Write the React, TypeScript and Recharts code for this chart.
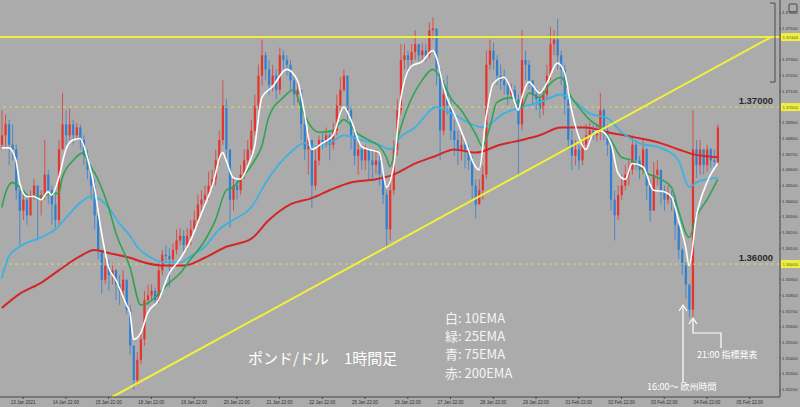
import React from 'react';
import { ComposedChart, Bar, Line, XAxis, YAxis, ReferenceLine } from 'recharts';

const firstOpen = 1.3676;

const closes = [
  1.3682, 1.3689, 1.3676, 1.3673, 1.3647, 1.3634, 1.3641, 1.3631, 1.3644, 1.3650,
  1.3641, 1.3644, 1.3657, 1.3647, 1.3638, 1.3628, 1.3673, 1.3689, 1.3682, 1.3689,
  1.3682, 1.3687, 1.3679, 1.3669, 1.3660, 1.3650, 1.3631, 1.3609, 1.3590, 1.3599,
  1.3593, 1.3596, 1.3587, 1.3583, 1.3590, 1.3571, 1.3548, 1.3526, 1.3539, 1.3552,
  1.3577, 1.3580, 1.3583, 1.3577, 1.3596, 1.3606, 1.3605, 1.3603, 1.3609, 1.3615,
  1.3618, 1.3612, 1.3618, 1.3622, 1.3628, 1.3638, 1.3641, 1.3644, 1.3650, 1.3654,
  1.3666, 1.3679, 1.3701, 1.3673, 1.3641, 1.3650, 1.3647, 1.3657, 1.3666, 1.3673,
  1.3685, 1.3701, 1.3720, 1.3733, 1.3724, 1.3714, 1.3720, 1.3711, 1.3733, 1.3730,
  1.3727, 1.3717, 1.3708, 1.3711, 1.3689, 1.3673, 1.3679, 1.3650, 1.3666, 1.3679,
  1.3676, 1.3682, 1.3676, 1.3685, 1.3701, 1.3711, 1.3720, 1.3698, 1.3682, 1.3669,
  1.3673, 1.3666, 1.3673, 1.3666, 1.3663, 1.3666, 1.3657, 1.3644, 1.3622, 1.3647,
  1.3673, 1.3698, 1.3730, 1.3733, 1.3730, 1.3735, 1.3740, 1.3733, 1.3736, 1.3733,
  1.3749, 1.3750, 1.3724, 1.3685, 1.3708, 1.3701, 1.3685, 1.3679, 1.3673, 1.3676,
  1.3673, 1.3666, 1.3650, 1.3638, 1.3647, 1.3657, 1.3727, 1.3736, 1.3730, 1.3720,
  1.3717, 1.3714, 1.3708, 1.3711, 1.3705, 1.3689, 1.3730, 1.3727, 1.3717, 1.3708,
  1.3705, 1.3699, 1.3708, 1.3720, 1.3740, 1.3743, 1.3733, 1.3724, 1.3705, 1.3679,
  1.3669, 1.3673, 1.3666, 1.3676, 1.3682, 1.3685, 1.3682, 1.3685, 1.3698, 1.3685,
  1.3676, 1.3641, 1.3631, 1.3644, 1.3650, 1.3657, 1.3660, 1.3676, 1.3666, 1.3660,
  1.3673, 1.3650, 1.3634, 1.3657, 1.3660, 1.3647, 1.3641, 1.3644, 1.3641, 1.3625,
  1.3609, 1.3599, 1.3587, 1.3571, 1.3673, 1.3663, 1.3673, 1.3663, 1.3673, 1.3666,
  1.3665, 1.3687,
];

const highs = [
  1.3698, 1.3695, 1.3692, 1.3689, 1.3676, 1.3650, 1.3647, 1.3644, 1.3647, 1.3654,
  1.3650, 1.3647, 1.3679, 1.3660, 1.3650, 1.3644, 1.3679, 1.3709, 1.3698, 1.3699,
  1.3692, 1.3690, 1.3689, 1.3682, 1.3673, 1.3663, 1.3654, 1.3634, 1.3609, 1.3604,
  1.3603, 1.3601, 1.3597, 1.3593, 1.3596, 1.3587, 1.3574, 1.3548, 1.3544, 1.3556,
  1.3583, 1.3587, 1.3587, 1.3585, 1.3601, 1.3609, 1.3612, 1.3610, 1.3613, 1.3622,
  1.3623, 1.3622, 1.3623, 1.3628, 1.3634, 1.3644, 1.3647, 1.3650, 1.3659, 1.3660,
  1.3673, 1.3685, 1.3717, 1.3705, 1.3673, 1.3655, 1.3654, 1.3663, 1.3673, 1.3679,
  1.3692, 1.3708, 1.3727, 1.3743, 1.3735, 1.3730, 1.3727, 1.3724, 1.3738, 1.3736,
  1.3733, 1.3730, 1.3720, 1.3717, 1.3711, 1.3695, 1.3685, 1.3679, 1.3673, 1.3682,
  1.3684, 1.3687, 1.3685, 1.3690, 1.3708, 1.3719, 1.3724, 1.3720, 1.3701, 1.3685,
  1.3679, 1.3676, 1.3676, 1.3674, 1.3673, 1.3673, 1.3669, 1.3660, 1.3647, 1.3654,
  1.3679, 1.3705, 1.3740, 1.3740, 1.3736, 1.3740, 1.3749, 1.3740, 1.3741, 1.3740,
  1.3754, 1.3757, 1.3749, 1.3724, 1.3717, 1.3720, 1.3705, 1.3692, 1.3685, 1.3682,
  1.3679, 1.3676, 1.3669, 1.3654, 1.3654, 1.3663, 1.3736, 1.3743, 1.3741, 1.3733,
  1.3727, 1.3724, 1.3717, 1.3715, 1.3714, 1.3708, 1.3749, 1.3736, 1.3730, 1.3717,
  1.3712, 1.3708, 1.3711, 1.3727, 1.3751, 1.3749, 1.3756, 1.3736, 1.3727, 1.3705,
  1.3685, 1.3679, 1.3676, 1.3680, 1.3689, 1.3690, 1.3689, 1.3689, 1.3709, 1.3701,
  1.3689, 1.3679, 1.3647, 1.3650, 1.3657, 1.3663, 1.3666, 1.3682, 1.3679, 1.3669,
  1.3679, 1.3674, 1.3654, 1.3665, 1.3666, 1.3660, 1.3650, 1.3650, 1.3647, 1.3644,
  1.3625, 1.3610, 1.3601, 1.3587, 1.3698, 1.3679, 1.3679, 1.3673, 1.3676, 1.3674,
  1.3673, 1.3689,
];

const lows = [
  1.3673, 1.3673, 1.3663, 1.3666, 1.3641, 1.3612, 1.3628, 1.3625, 1.3631, 1.3641,
  1.3615, 1.3631, 1.3641, 1.3638, 1.3625, 1.3623, 1.3625, 1.3673, 1.3676, 1.3679,
  1.3676, 1.3679, 1.3673, 1.3663, 1.3654, 1.3641, 1.3622, 1.3603, 1.3581, 1.3587,
  1.3583, 1.3587, 1.3577, 1.3574, 1.3577, 1.3568, 1.3542, 1.3520, 1.3523, 1.3536,
  1.3548, 1.3574, 1.3577, 1.3574, 1.3575, 1.3593, 1.3601, 1.3585, 1.3599, 1.3606,
  1.3612, 1.3608, 1.3609, 1.3612, 1.3620, 1.3625, 1.3634, 1.3638, 1.3641, 1.3647,
  1.3650, 1.3663, 1.3676, 1.3666, 1.3623, 1.3634, 1.3641, 1.3644, 1.3654, 1.3663,
  1.3669, 1.3682, 1.3698, 1.3714, 1.3717, 1.3708, 1.3710, 1.3705, 1.3708, 1.3724,
  1.3720, 1.3711, 1.3701, 1.3703, 1.3679, 1.3666, 1.3657, 1.3636, 1.3647, 1.3663,
  1.3673, 1.3674, 1.3666, 1.3673, 1.3682, 1.3698, 1.3710, 1.3692, 1.3673, 1.3663,
  1.3657, 1.3660, 1.3660, 1.3654, 1.3654, 1.3657, 1.3650, 1.3638, 1.3611, 1.3615,
  1.3644, 1.3669, 1.3695, 1.3724, 1.3724, 1.3727, 1.3730, 1.3729, 1.3730, 1.3729,
  1.3731, 1.3743, 1.3714, 1.3666, 1.3682, 1.3695, 1.3679, 1.3669, 1.3663, 1.3666,
  1.3661, 1.3660, 1.3641, 1.3629, 1.3638, 1.3641, 1.3654, 1.3724, 1.3724, 1.3714,
  1.3711, 1.3708, 1.3701, 1.3705, 1.3698, 1.3657, 1.3685, 1.3717, 1.3711, 1.3701,
  1.3698, 1.3693, 1.3695, 1.3705, 1.3717, 1.3733, 1.3724, 1.3714, 1.3695, 1.3673,
  1.3660, 1.3663, 1.3660, 1.3663, 1.3673, 1.3676, 1.3679, 1.3678, 1.3679, 1.3679,
  1.3669, 1.3634, 1.3615, 1.3628, 1.3641, 1.3647, 1.3650, 1.3657, 1.3660, 1.3654,
  1.3657, 1.3641, 1.3627, 1.3634, 1.3650, 1.3638, 1.3634, 1.3638, 1.3634, 1.3615,
  1.3603, 1.3593, 1.3578, 1.3566, 1.3566, 1.3655, 1.3657, 1.3657, 1.3659, 1.3661,
  1.3661, 1.3663,
];

// EMA lines: [candle index, price]
const ema10Pts: [number, number][] = [
  [0, 1.3674], [2, 1.3674], [4, 1.3666], [5, 1.3652], [7, 1.3643], [9, 1.3643], [11, 1.3641],
  [13, 1.3646], [14, 1.3644], [16, 1.3655], [18, 1.3673], [20, 1.3679], [22, 1.3680], [24, 1.3668],
  [26, 1.3649], [28, 1.3620], [30, 1.3598], [32, 1.3590], [35, 1.3574], [36, 1.3569], [37, 1.3552],
  [39, 1.3556], [41, 1.3569], [44, 1.3577], [47, 1.3594], [50, 1.3603], [53, 1.3615], [56, 1.3632],
  [59, 1.3649], [62, 1.3671], [63, 1.3666], [65, 1.3655], [67, 1.3654], [69, 1.3662], [71, 1.3675],
  [73, 1.3706], [76, 1.3713], [80, 1.3724], [83, 1.3717], [85, 1.3696], [87, 1.3673], [90, 1.3677],
  [93, 1.3682], [96, 1.3700], [98, 1.3692], [101, 1.3675], [103, 1.3673], [106, 1.3671], [108, 1.3649],
  [110, 1.3662], [112, 1.3705], [115, 1.3726], [118, 1.3729], [121, 1.3736], [122, 1.3732], [124, 1.3713],
  [125, 1.3706], [127, 1.3696], [130, 1.3679], [133, 1.3662], [134, 1.3660], [136, 1.3694], [138, 1.3715],
  [141, 1.3719], [143, 1.3711], [145, 1.3698], [146, 1.3706], [148, 1.3716], [151, 1.3709], [153, 1.3715],
  [156, 1.3728], [158, 1.3722], [160, 1.3698], [162, 1.3681], [164, 1.3673], [166, 1.3683], [168, 1.3685],
  [171, 1.3677], [173, 1.3658], [175, 1.3654], [177, 1.3664], [180, 1.3662], [183, 1.3647], [186, 1.3646],
  [188, 1.3643], [190, 1.3628], [192, 1.3611], [193, 1.3599], [195, 1.3630], [198, 1.3652], [201, 1.3664],
];

const ema25Pts: [number, number][] = [
  [0, 1.3636], [1, 1.3645], [3, 1.3652], [5, 1.3649], [8, 1.3643], [11, 1.3643], [14, 1.3645],
  [16, 1.3645], [17, 1.3655], [20, 1.3666], [23, 1.3671], [24, 1.3666], [27, 1.3654], [30, 1.3636],
  [32, 1.3620], [36, 1.3598], [39, 1.3574], [41, 1.3575], [44, 1.3581], [47, 1.3588], [50, 1.3594],
  [53, 1.3603], [57, 1.3615], [60, 1.3628], [63, 1.3647], [65, 1.3649], [67, 1.3654], [71, 1.3666],
  [73, 1.3675], [75, 1.3694], [79, 1.3706], [82, 1.3711], [84, 1.3700], [87, 1.3687], [89, 1.3684],
  [93, 1.3685], [96, 1.3692], [100, 1.3683], [103, 1.3679], [106, 1.3675], [108, 1.3668], [109, 1.3662],
  [111, 1.3679], [114, 1.3700], [118, 1.3717], [121, 1.3724], [124, 1.3715], [126, 1.3706], [129, 1.3698],
  [133, 1.3683], [135, 1.3675], [137, 1.3687], [139, 1.3703], [143, 1.3706], [146, 1.3700], [148, 1.3709],
  [151, 1.3706], [154, 1.3715], [157, 1.3719], [160, 1.3706], [162, 1.3700], [165, 1.3692], [168, 1.3687],
  [171, 1.3679], [174, 1.3668], [177, 1.3666], [181, 1.3658], [185, 1.3654], [188, 1.3649], [190, 1.3634],
  [193, 1.3617], [195, 1.3630], [198, 1.3641], [201, 1.3654],
];

const ema75Pts: [number, number][] = [
  [0, 1.3591], [2, 1.3605], [5, 1.3611], [11, 1.3617], [15, 1.3622], [19, 1.3632], [22, 1.3639],
  [25, 1.3643], [27, 1.3642], [30, 1.3636], [33, 1.3626], [36, 1.3618], [38, 1.3611], [42, 1.3604],
  [46, 1.3601], [50, 1.3601], [53, 1.3605], [57, 1.3611], [61, 1.3622], [65, 1.3628], [70, 1.3636],
  [75, 1.3655], [81, 1.3671], [85, 1.3677], [87, 1.3675], [92, 1.3677], [96, 1.3682], [101, 1.3679],
  [106, 1.3676], [109, 1.3673], [112, 1.3681], [116, 1.3687], [122, 1.3700], [127, 1.3695], [135, 1.3687],
  [141, 1.3696], [146, 1.3700], [151, 1.3703], [157, 1.3708], [160, 1.3705], [165, 1.3696], [170, 1.3693],
  [174, 1.3684], [179, 1.3677], [185, 1.3674], [190, 1.3666], [193, 1.3649], [195, 1.3652], [198, 1.3654],
  [201, 1.3655],
];

const ema200Pts: [number, number][] = [
  [0, 1.3572], [5, 1.3581], [11, 1.3588], [16, 1.3596], [22, 1.3605], [26, 1.3609], [30, 1.3607],
  [36, 1.3604], [40, 1.3601], [46, 1.3599], [51, 1.3599], [57, 1.3604], [63, 1.3611], [70, 1.3616],
  [75, 1.3628], [81, 1.3638], [87, 1.3642], [92, 1.3647], [98, 1.3652], [105, 1.3654], [110, 1.3657],
  [116, 1.3664], [122, 1.3669], [127, 1.3673], [133, 1.3671], [140, 1.3676], [146, 1.3679], [151, 1.3682],
  [157, 1.3687], [164, 1.3687], [170, 1.3684], [177, 1.3681], [185, 1.3677], [190, 1.3673], [194, 1.3670],
  [201, 1.3668],
];

const dayLabels = [
  '13 Jan 2021', '14 Jan 22:00', '15 Jan 22:00', '18 Jan 22:00', '19 Jan 22:00', '20 Jan 22:00',
  '21 Jan 22:00', '22 Jan 22:00', '25 Jan 22:00', '26 Jan 22:00', '27 Jan 22:00', '28 Jan 22:00',
  '29 Jan 22:00', '01 Feb 22:00', '02 Feb 22:00', '03 Feb 22:00', '04 Feb 22:00', '05 Feb 22:00',
];

// right-axis ticks (1.36000 and 1.37000 are shown by the yellow price boxes)
const yTicks = [
  1.352, 1.353, 1.354, 1.355, 1.356, 1.357, 1.358, 1.359, 1.361, 1.362, 1.363, 1.364,
  1.365, 1.366, 1.367, 1.368, 1.369, 1.371, 1.372, 1.373, 1.375, 1.376,
];

const resistanceLevel = 1.37446;
const roundLevels = [1.37, 1.36];
const trendStart = { i: 31, p: 1.35153 };
const trendEnd = { i: 216, p: 1.37446 };

// ---------- layout ----------
const W = 800;
const H = 407;
const AXIS_W = 20;
const XAXIS_H = 10;
const SLOTS = 219;
const CANDLES_PER_DAY = 12;
const FIRST_TICK = 6;
const P_TOP = 1.37682;
const P_BOT = 1.35153;
const BG = '#ababab';
const UP = '#e8322c';
const DOWN = '#2f7fd2';
const YELLOW = '#f0f03c';

const toMap = (pts: [number, number][]) => new Map(pts.map(([i, v]) => [i, v]));
const m10 = toMap(ema10Pts);
const m25 = toMap(ema25Pts);
const m75 = toMap(ema75Pts);
const m200 = toMap(ema200Pts);

const tickIdx = dayLabels.map((_, k) => FIRST_TICK + k * CANDLES_PER_DAY);
const tickLabel: Record<number, string> = {};
tickIdx.forEach((t, k) => (tickLabel[t] = dayLabels[k]));

const data = Array.from({ length: SLOTS }, (_, i) => {
  const has = i < closes.length;
  const o = has ? (i === 0 ? firstOpen : closes[i - 1]) : null;
  const c = has ? closes[i] : null;
  const h = has ? Math.max(highs[i], o as number, c as number) : null;
  const l = has ? Math.min(lows[i], o as number, c as number) : null;
  return {
    i,
    o,
    c,
    h,
    l,
    e10: m10.has(i) ? m10.get(i) : null,
    e25: m25.has(i) ? m25.get(i) : null,
    e75: m75.has(i) ? m75.get(i) : null,
    e200: m200.has(i) ? m200.get(i) : null,
  };
});

const Candle = (props: any) => {
  const { x, y, width, height, payload } = props;
  if (!payload || payload.c == null) return null;
  const { o, c, h, l } = payload;
  const top = Math.min(y, y + height);
  const hgt = Math.abs(height);
  const span = h - l || 1e-6;
  const yOf = (p: number) => top + ((h - p) / span) * hgt;
  const cx = x + width / 2;
  const color = c >= o ? UP : DOWN;
  const yo = yOf(o);
  const yc = yOf(c);
  const bt = Math.min(yo, yc);
  const bh = Math.max(1, Math.abs(yo - yc));
  return (
    <g>
      <line x1={cx} x2={cx} y1={top} y2={top + hgt} stroke={color} strokeWidth={1} strokeOpacity={0.75} />
      <rect x={cx - 1.1} y={bt} width={2.2} height={bh} fill={color} />
    </g>
  );
};

const PLOT_H = H - XAXIS_H;
const PLOT_R = W - AXIS_W;
const yPix = (p: number) => ((P_TOP - p) / (P_TOP - P_BOT)) * PLOT_H;

const axisBox = (p: number, key: string) => {
  const yy = yPix(p);
  return (
    <g key={key}>
      <rect x={PLOT_R + 1} y={yy - 4} width={19} height={8} fill={YELLOW} />
      <text x={PLOT_R + 2.5} y={yy + 1.6} fontSize={4.3} fill="#555" fontFamily="Liberation Sans">
        {p.toFixed(5)}
      </text>
    </g>
  );
};

const JP = '"Noto Sans CJK JP", "Noto Sans", sans-serif';

export default function App() {
  return (
    <div style={{ position: 'absolute', left: 0, top: 0, width: W, height: H, background: BG, overflow: 'hidden' }}>
      <ComposedChart
        width={W}
        height={H}
        data={data}
        margin={{ top: 0, right: 0, bottom: 0, left: 0 }}
        barCategoryGap={0}
      >
        <XAxis
          dataKey="i"
          type="category"
          ticks={tickIdx}
          interval={0}
          tickFormatter={(v: any) => tickLabel[v] ?? ''}
          height={XAXIS_H}
          tick={{ fontSize: 4.5, fill: '#333', fontFamily: 'Liberation Sans' }}
          tickSize={2}
          tickLine={{ stroke: '#444' }}
          axisLine={{ stroke: '#444' }}
        />
        <YAxis
          orientation="right"
          type="number"
          domain={[P_BOT, P_TOP]}
          allowDataOverflow
          ticks={yTicks}
          tickFormatter={(v: number) => v.toFixed(5)}
          width={AXIS_W}
          tick={{ fontSize: 4.3, fill: '#333', fontFamily: 'Liberation Sans' }}
          tickSize={1}
          tickMargin={1}
          tickLine={{ stroke: '#444' }}
          axisLine={{ stroke: '#444' }}
        />
        <ReferenceLine y={roundLevels[0]} stroke="#d8d86a" strokeDasharray="3 3" strokeWidth={1} />
        <ReferenceLine y={roundLevels[1]} stroke="#d8d86a" strokeDasharray="3 3" strokeWidth={1} />
        <Bar dataKey={(d: any) => (d.c == null ? null : [d.l, d.h])} shape={Candle} isAnimationActive={false} activeBar={false} />
        <Line dataKey="e200" type="monotone" stroke="#d42626" strokeWidth={2} dot={false} activeDot={false} connectNulls isAnimationActive={false} />
        <Line dataKey="e75" type="monotone" stroke="#3cb2e0" strokeWidth={1.8} dot={false} activeDot={false} connectNulls isAnimationActive={false} />
        <Line dataKey="e25" type="monotone" stroke="#2fa352" strokeWidth={1.6} dot={false} activeDot={false} connectNulls isAnimationActive={false} />
        <Line dataKey="e10" type="monotone" stroke="#ffffff" strokeWidth={1.6} dot={false} activeDot={false} connectNulls isAnimationActive={false} />
        <ReferenceLine y={resistanceLevel} stroke={YELLOW} strokeWidth={2} />
        <ReferenceLine
          segment={[{ x: trendStart.i, y: trendStart.p }, { x: trendEnd.i, y: trendEnd.p }]}
          stroke={YELLOW}
          strokeWidth={2}
        />
      </ComposedChart>

      <svg width={W} height={H} style={{ position: 'absolute', left: 0, top: 0, pointerEvents: 'none' }}>
        {axisBox(resistanceLevel, 'r')}
        {roundLevels.map((p, k) => axisBox(p, 'l' + k))}
        {roundLevels.map((p, k) => (
          <text
            key={'t' + k}
            x={773}
            y={yPix(p) - 3}
            textAnchor="end"
            fontSize={9.5}
            fontWeight="bold"
            fill="#2a2a2a"
            fontFamily="Liberation Sans"
          >
            {p.toFixed(5)}
          </text>
        ))}
        {/* measuring bracket */}
        <g stroke="#333" strokeWidth={0.8} fill="none">
          <path d="M770 3 H775 V82 H770" />
        </g>
        <rect x={789} y={4} width={8} height={8} rx={1} fill="none" stroke="#333" strokeWidth={0.8} />

        {/* title */}
        <text x={248} y={364} fontSize={15} fill="#ffffff" fontFamily={JP}>
          ポンド/ドル　1時間足
        </text>

        {/* legend */}
        <g fontSize={13} fill="#f4f4f4" fontFamily={JP}>
          <text x={445} y={323}>白: 10EMA</text>
          <text x={445} y={341}>緑: 25EMA</text>
          <text x={445} y={359}>青: 75EMA</text>
          <text x={445} y={378}>赤: 200EMA</text>
        </g>

        {/* annotations */}
        <g stroke="#ffffff" strokeWidth={1.2} fill="none">
          <path d="M683 306 V383" />
          <path d="M679 311 L683 305 L687 311" />
          <path d="M693 319 V333 H721 V348" />
          <path d="M689 324 L693 318 L697 324" />
        </g>
        <text x={697} y={358} fontSize={9} fill="#ffffff" fontFamily={JP}>
          21:00 指標発表
        </text>
        <text x={647} y={390} fontSize={9} fill="#ffffff" fontFamily={JP}>
          16:00〜 欧州時間
        </text>
      </svg>
    </div>
  );
}
